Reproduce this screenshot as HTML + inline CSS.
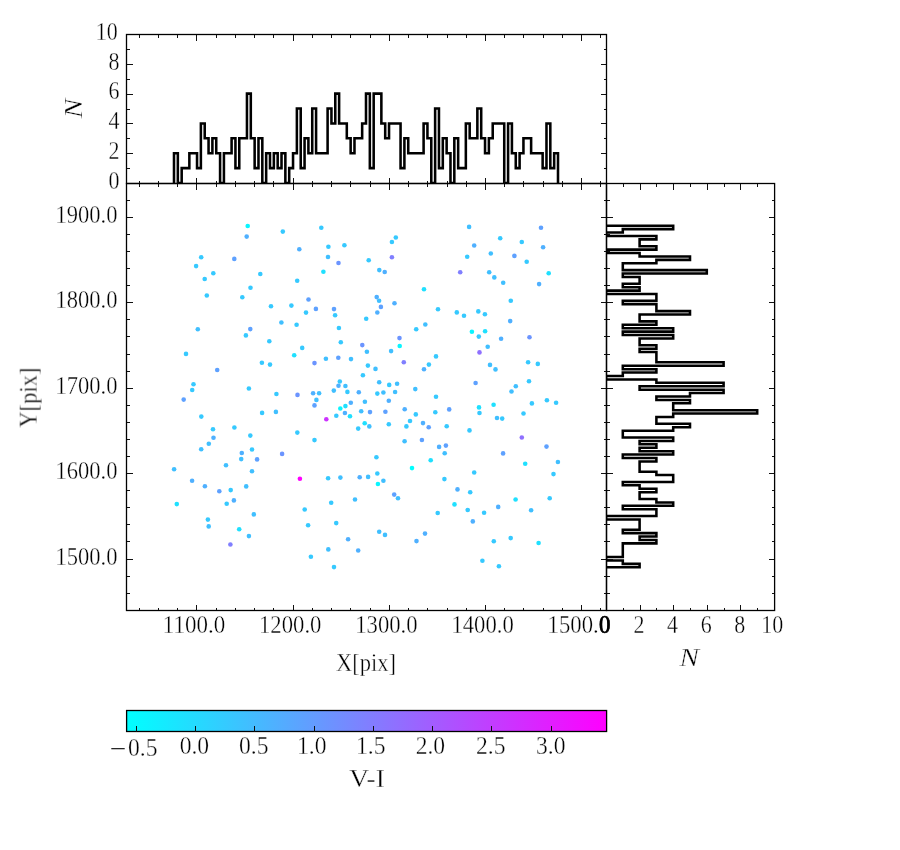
<!DOCTYPE html>
<html><head><meta charset="utf-8"><title>chart</title>
<style>html,body{margin:0;padding:0;background:#fff;}svg{display:block;}text{font-family:"Liberation Serif",serif;fill:#000;}</style></head><body>
<svg width="900" height="850" viewBox="0 0 900 850">
<rect x="0" y="0" width="900" height="850" fill="#ffffff"/>
<defs><linearGradient id="cool" x1="0" x2="1" y1="0" y2="0"><stop offset="0" stop-color="#00ffff"/><stop offset="1" stop-color="#ff00ff"/></linearGradient><clipPath id="cT"><rect x="126.0" y="34.0" width="480.0" height="149.0"/></clipPath><clipPath id="cR"><rect x="606.0" y="183.0" width="168.0" height="427.0"/></clipPath><clipPath id="cM"><rect x="126.0" y="183.0" width="480.0" height="427.0"/></clipPath></defs>
<g id="pts">
<circle cx="510.7" cy="538.1" r="2.3" fill="#36c9ff"/>
<circle cx="510.8" cy="300.7" r="2.3" fill="#36c9ff"/>
<circle cx="511.5" cy="391.5" r="2.3" fill="#40bfff"/>
<circle cx="412.0" cy="468.1" r="2.3" fill="#00ffff"/>
<circle cx="315.9" cy="308.9" r="2.3" fill="#5ea1ff"/>
<circle cx="314.5" cy="363.1" r="2.3" fill="#6b94ff"/>
<circle cx="314.5" cy="440.1" r="2.3" fill="#36c9ff"/>
<circle cx="217.2" cy="370.0" r="2.3" fill="#5ea1ff"/>
<circle cx="313.1" cy="393.3" r="2.3" fill="#4fb0ff"/>
<circle cx="319.1" cy="393.3" r="2.3" fill="#40bfff"/>
<circle cx="415.3" cy="389.1" r="2.3" fill="#40bfff"/>
<circle cx="515.8" cy="386.2" r="2.3" fill="#40bfff"/>
<circle cx="416.5" cy="541.1" r="2.3" fill="#4fb0ff"/>
<circle cx="503.2" cy="282.8" r="2.3" fill="#40bfff"/>
<circle cx="503.1" cy="453.4" r="2.3" fill="#5ea1ff"/>
<circle cx="310.9" cy="556.8" r="2.3" fill="#36c9ff"/>
<circle cx="226.0" cy="465.2" r="2.3" fill="#40bfff"/>
<circle cx="213.5" cy="437.8" r="2.3" fill="#4fb0ff"/>
<circle cx="213.3" cy="273.2" r="2.3" fill="#36c9ff"/>
<circle cx="323.4" cy="271.8" r="2.3" fill="#1fe0ff"/>
<circle cx="308.5" cy="299.5" r="2.3" fill="#5ea1ff"/>
<circle cx="308.1" cy="525.2" r="2.3" fill="#36c9ff"/>
<circle cx="404.6" cy="441.2" r="2.3" fill="#40bfff"/>
<circle cx="403.8" cy="362.2" r="2.3" fill="#807fff"/>
<circle cx="498.9" cy="566.2" r="2.3" fill="#36c9ff"/>
<circle cx="521.8" cy="437.5" r="2.3" fill="#8f70ff"/>
<circle cx="325.9" cy="358.8" r="2.3" fill="#40bfff"/>
<circle cx="421.9" cy="440.0" r="2.3" fill="#5ea1ff"/>
<circle cx="230.4" cy="544.5" r="2.3" fill="#807fff"/>
<circle cx="208.8" cy="443.8" r="2.3" fill="#40bfff"/>
<circle cx="208.7" cy="526.4" r="2.3" fill="#40bfff"/>
<circle cx="424.0" cy="289.2" r="2.3" fill="#1fe0ff"/>
<circle cx="424.0" cy="369.3" r="2.3" fill="#4fb0ff"/>
<circle cx="328.1" cy="478.2" r="2.3" fill="#36c9ff"/>
<circle cx="207.9" cy="519.6" r="2.3" fill="#36c9ff"/>
<circle cx="328.3" cy="549.4" r="2.3" fill="#40bfff"/>
<circle cx="399.7" cy="346.0" r="2.3" fill="#0af5ff"/>
<circle cx="495.5" cy="369.4" r="2.3" fill="#40bfff"/>
<circle cx="213.0" cy="429.3" r="2.3" fill="#36c9ff"/>
<circle cx="425.0" cy="533.6" r="2.3" fill="#4fb0ff"/>
<circle cx="525.2" cy="463.8" r="2.3" fill="#1fe0ff"/>
<circle cx="328.0" cy="257.0" r="2.3" fill="#40bfff"/>
<circle cx="206.8" cy="295.5" r="2.3" fill="#36c9ff"/>
<circle cx="494.3" cy="277.4" r="2.3" fill="#40bfff"/>
<circle cx="302.2" cy="347.9" r="2.3" fill="#36c9ff"/>
<circle cx="234.3" cy="258.9" r="2.3" fill="#5ea1ff"/>
<circle cx="514.4" cy="255.9" r="2.3" fill="#5ea1ff"/>
<circle cx="493.8" cy="541.2" r="2.3" fill="#36c9ff"/>
<circle cx="526.7" cy="261.7" r="2.3" fill="#36c9ff"/>
<circle cx="234.4" cy="427.5" r="2.3" fill="#36c9ff"/>
<circle cx="397.1" cy="383.8" r="2.3" fill="#40bfff"/>
<circle cx="204.7" cy="279.0" r="2.3" fill="#36c9ff"/>
<circle cx="406.4" cy="426.4" r="2.3" fill="#36c9ff"/>
<circle cx="528.1" cy="362.2" r="2.3" fill="#36c9ff"/>
<circle cx="299.9" cy="478.7" r="2.3" fill="#ff00ff"/>
<circle cx="428.7" cy="427.2" r="2.3" fill="#5ea1ff"/>
<circle cx="428.9" cy="364.6" r="2.3" fill="#36c9ff"/>
<circle cx="529.0" cy="381.2" r="2.3" fill="#36c9ff"/>
<circle cx="395.1" cy="392.0" r="2.3" fill="#40bfff"/>
<circle cx="490.8" cy="253.5" r="2.3" fill="#40bfff"/>
<circle cx="501.1" cy="338.8" r="2.3" fill="#4fb0ff"/>
<circle cx="394.5" cy="303.3" r="2.3" fill="#4fb0ff"/>
<circle cx="333.8" cy="390.6" r="2.3" fill="#40bfff"/>
<circle cx="334.0" cy="309.1" r="2.3" fill="#5ea1ff"/>
<circle cx="334.0" cy="567.1" r="2.3" fill="#36c9ff"/>
<circle cx="490.0" cy="364.9" r="2.3" fill="#40bfff"/>
<circle cx="399.5" cy="338.1" r="2.3" fill="#6b94ff"/>
<circle cx="297.5" cy="394.9" r="2.3" fill="#6b94ff"/>
<circle cx="430.7" cy="460.2" r="2.3" fill="#1fe0ff"/>
<circle cx="304.7" cy="509.5" r="2.3" fill="#36c9ff"/>
<circle cx="297.3" cy="432.6" r="2.3" fill="#36c9ff"/>
<circle cx="201.2" cy="257.2" r="2.3" fill="#36c9ff"/>
<circle cx="297.2" cy="280.8" r="2.3" fill="#36c9ff"/>
<circle cx="201.2" cy="449.2" r="2.3" fill="#40bfff"/>
<circle cx="489.2" cy="272.3" r="2.3" fill="#40bfff"/>
<circle cx="529.5" cy="337.3" r="2.3" fill="#6b94ff"/>
<circle cx="531.1" cy="510.2" r="2.3" fill="#40bfff"/>
<circle cx="423.0" cy="423.1" r="2.3" fill="#4fb0ff"/>
<circle cx="239.2" cy="529.2" r="2.3" fill="#1fe0ff"/>
<circle cx="336.2" cy="523.1" r="2.3" fill="#36c9ff"/>
<circle cx="391.9" cy="257.3" r="2.3" fill="#807fff"/>
<circle cx="487.7" cy="346.8" r="2.3" fill="#40bfff"/>
<circle cx="299.3" cy="249.2" r="2.3" fill="#4fb0ff"/>
<circle cx="391.1" cy="351.1" r="2.3" fill="#40bfff"/>
<circle cx="241.2" cy="459.1" r="2.3" fill="#40bfff"/>
<circle cx="410.0" cy="421.0" r="2.3" fill="#36c9ff"/>
<circle cx="498.2" cy="506.9" r="2.3" fill="#4fb0ff"/>
<circle cx="241.8" cy="453.0" r="2.3" fill="#4fb0ff"/>
<circle cx="294.2" cy="355.2" r="2.3" fill="#1fe0ff"/>
<circle cx="242.3" cy="297.2" r="2.3" fill="#36c9ff"/>
<circle cx="338.3" cy="357.8" r="2.3" fill="#5ea1ff"/>
<circle cx="338.5" cy="263.0" r="2.3" fill="#6b94ff"/>
<circle cx="338.5" cy="385.8" r="2.3" fill="#4fb0ff"/>
<circle cx="389.2" cy="384.9" r="2.3" fill="#36c9ff"/>
<circle cx="326.3" cy="419.3" r="2.3" fill="#cc33ff"/>
<circle cx="388.8" cy="424.3" r="2.3" fill="#36c9ff"/>
<circle cx="328.4" cy="246.8" r="2.3" fill="#36c9ff"/>
<circle cx="502.2" cy="418.6" r="2.3" fill="#36c9ff"/>
<circle cx="339.8" cy="381.5" r="2.3" fill="#36c9ff"/>
<circle cx="436.0" cy="356.4" r="2.3" fill="#36c9ff"/>
<circle cx="436.0" cy="396.8" r="2.3" fill="#36c9ff"/>
<circle cx="196.1" cy="266.1" r="2.3" fill="#36c9ff"/>
<circle cx="484.1" cy="512.8" r="2.3" fill="#36c9ff"/>
<circle cx="497.0" cy="418.0" r="2.3" fill="#40bfff"/>
<circle cx="340.4" cy="477.6" r="2.3" fill="#40bfff"/>
<circle cx="226.7" cy="503.8" r="2.3" fill="#36c9ff"/>
<circle cx="291.4" cy="305.6" r="2.3" fill="#36c9ff"/>
<circle cx="340.8" cy="342.3" r="2.3" fill="#36c9ff"/>
<circle cx="485.1" cy="331.3" r="2.3" fill="#1fe0ff"/>
<circle cx="331.2" cy="502.8" r="2.3" fill="#36c9ff"/>
<circle cx="201.3" cy="416.6" r="2.3" fill="#36c9ff"/>
<circle cx="437.7" cy="513.0" r="2.3" fill="#36c9ff"/>
<circle cx="537.8" cy="363.9" r="2.3" fill="#36c9ff"/>
<circle cx="482.4" cy="560.7" r="2.3" fill="#36c9ff"/>
<circle cx="245.9" cy="335.4" r="2.3" fill="#36c9ff"/>
<circle cx="438.0" cy="309.3" r="2.3" fill="#36c9ff"/>
<circle cx="336.3" cy="415.8" r="2.3" fill="#36c9ff"/>
<circle cx="538.6" cy="543.0" r="2.3" fill="#1fe0ff"/>
<circle cx="193.5" cy="384.2" r="2.3" fill="#36c9ff"/>
<circle cx="197.8" cy="329.3" r="2.3" fill="#40bfff"/>
<circle cx="416.2" cy="329.3" r="2.3" fill="#36c9ff"/>
<circle cx="439.1" cy="446.9" r="2.3" fill="#4fb0ff"/>
<circle cx="539.1" cy="284.1" r="2.3" fill="#4fb0ff"/>
<circle cx="385.0" cy="534.9" r="2.3" fill="#40bfff"/>
<circle cx="384.7" cy="272.0" r="2.3" fill="#4fb0ff"/>
<circle cx="415.8" cy="414.4" r="2.3" fill="#36c9ff"/>
<circle cx="233.9" cy="500.4" r="2.3" fill="#4fb0ff"/>
<circle cx="192.2" cy="390.0" r="2.3" fill="#36c9ff"/>
<circle cx="192.1" cy="480.8" r="2.3" fill="#4fb0ff"/>
<circle cx="521.8" cy="242.0" r="2.3" fill="#36c9ff"/>
<circle cx="391.9" cy="242.0" r="2.3" fill="#36c9ff"/>
<circle cx="338.9" cy="328.0" r="2.3" fill="#36c9ff"/>
<circle cx="344.4" cy="245.2" r="2.3" fill="#36c9ff"/>
<circle cx="479.5" cy="352.4" r="2.3" fill="#8f70ff"/>
<circle cx="383.4" cy="392.5" r="2.3" fill="#40bfff"/>
<circle cx="383.4" cy="480.8" r="2.3" fill="#40bfff"/>
<circle cx="523.5" cy="413.5" r="2.3" fill="#36c9ff"/>
<circle cx="515.6" cy="499.5" r="2.3" fill="#1fe0ff"/>
<circle cx="248.9" cy="388.5" r="2.3" fill="#36c9ff"/>
<circle cx="248.9" cy="536.1" r="2.3" fill="#40bfff"/>
<circle cx="479.5" cy="413.0" r="2.3" fill="#36c9ff"/>
<circle cx="344.9" cy="413.0" r="2.3" fill="#4fb0ff"/>
<circle cx="478.8" cy="336.6" r="2.3" fill="#36c9ff"/>
<circle cx="345.4" cy="386.0" r="2.3" fill="#40bfff"/>
<circle cx="478.3" cy="311.4" r="2.3" fill="#36c9ff"/>
<circle cx="398.0" cy="498.3" r="2.3" fill="#40bfff"/>
<circle cx="435.3" cy="412.2" r="2.3" fill="#36c9ff"/>
<circle cx="250.3" cy="329.1" r="2.3" fill="#5ea1ff"/>
<circle cx="250.3" cy="435.6" r="2.3" fill="#36c9ff"/>
<circle cx="250.5" cy="287.8" r="2.3" fill="#36c9ff"/>
<circle cx="385.4" cy="411.8" r="2.3" fill="#5ea1ff"/>
<circle cx="543.1" cy="247.2" r="2.3" fill="#4fb0ff"/>
<circle cx="380.9" cy="306.9" r="2.3" fill="#5ea1ff"/>
<circle cx="347.4" cy="391.9" r="2.3" fill="#36c9ff"/>
<circle cx="296.6" cy="324.8" r="2.3" fill="#36c9ff"/>
<circle cx="425.3" cy="324.5" r="2.3" fill="#40bfff"/>
<circle cx="252.0" cy="449.5" r="2.3" fill="#36c9ff"/>
<circle cx="252.0" cy="471.2" r="2.3" fill="#40bfff"/>
<circle cx="500.2" cy="238.2" r="2.3" fill="#36c9ff"/>
<circle cx="348.1" cy="539.3" r="2.3" fill="#4fb0ff"/>
<circle cx="444.4" cy="479.1" r="2.3" fill="#36c9ff"/>
<circle cx="475.6" cy="383.0" r="2.3" fill="#5ea1ff"/>
<circle cx="444.7" cy="453.3" r="2.3" fill="#40bfff"/>
<circle cx="395.8" cy="237.5" r="2.3" fill="#36c9ff"/>
<circle cx="379.3" cy="270.1" r="2.3" fill="#40bfff"/>
<circle cx="379.2" cy="382.2" r="2.3" fill="#40bfff"/>
<circle cx="379.2" cy="531.8" r="2.3" fill="#40bfff"/>
<circle cx="379.1" cy="300.8" r="2.3" fill="#40bfff"/>
<circle cx="404.7" cy="409.2" r="2.3" fill="#4fb0ff"/>
<circle cx="246.7" cy="236.6" r="2.3" fill="#4fb0ff"/>
<circle cx="394.2" cy="494.6" r="2.3" fill="#5ea1ff"/>
<circle cx="340.3" cy="408.5" r="2.3" fill="#0af5ff"/>
<circle cx="253.8" cy="514.4" r="2.3" fill="#40bfff"/>
<circle cx="445.9" cy="445.6" r="2.3" fill="#5ea1ff"/>
<circle cx="350.0" cy="416.3" r="2.3" fill="#1fe0ff"/>
<circle cx="474.2" cy="245.5" r="2.3" fill="#4fb0ff"/>
<circle cx="474.2" cy="472.5" r="2.3" fill="#36c9ff"/>
<circle cx="282.1" cy="453.9" r="2.3" fill="#6b94ff"/>
<circle cx="186.0" cy="353.9" r="2.3" fill="#36c9ff"/>
<circle cx="546.5" cy="446.6" r="2.3" fill="#5ea1ff"/>
<circle cx="446.7" cy="426.2" r="2.3" fill="#36c9ff"/>
<circle cx="281.4" cy="322.5" r="2.3" fill="#40bfff"/>
<circle cx="510.2" cy="321.1" r="2.3" fill="#4fb0ff"/>
<circle cx="479.0" cy="407.4" r="2.3" fill="#1fe0ff"/>
<circle cx="377.3" cy="393.6" r="2.3" fill="#36c9ff"/>
<circle cx="377.3" cy="473.5" r="2.3" fill="#36c9ff"/>
<circle cx="351.0" cy="359.1" r="2.3" fill="#40bfff"/>
<circle cx="472.8" cy="521.4" r="2.3" fill="#4fb0ff"/>
<circle cx="376.7" cy="297.1" r="2.3" fill="#4fb0ff"/>
<circle cx="376.4" cy="457.3" r="2.3" fill="#36c9ff"/>
<circle cx="345.4" cy="406.1" r="2.3" fill="#1fe0ff"/>
<circle cx="471.9" cy="331.7" r="2.3" fill="#0af5ff"/>
<circle cx="375.5" cy="368.9" r="2.3" fill="#40bfff"/>
<circle cx="548.7" cy="273.2" r="2.3" fill="#1fe0ff"/>
<circle cx="314.5" cy="405.4" r="2.3" fill="#5ea1ff"/>
<circle cx="219.3" cy="491.3" r="2.3" fill="#5ea1ff"/>
<circle cx="257.1" cy="459.4" r="2.3" fill="#5ea1ff"/>
<circle cx="449.2" cy="409.4" r="2.3" fill="#5ea1ff"/>
<circle cx="493.6" cy="404.7" r="2.3" fill="#1fe0ff"/>
<circle cx="549.7" cy="498.2" r="2.3" fill="#36c9ff"/>
<circle cx="470.2" cy="492.2" r="2.3" fill="#36c9ff"/>
<circle cx="230.7" cy="490.1" r="2.3" fill="#36c9ff"/>
<circle cx="282.8" cy="231.6" r="2.3" fill="#36c9ff"/>
<circle cx="469.5" cy="430.4" r="2.3" fill="#36c9ff"/>
<circle cx="531.9" cy="403.4" r="2.3" fill="#36c9ff"/>
<circle cx="355.0" cy="499.5" r="2.3" fill="#40bfff"/>
<circle cx="350.8" cy="402.8" r="2.3" fill="#4fb0ff"/>
<circle cx="276.4" cy="394.0" r="2.3" fill="#36c9ff"/>
<circle cx="260.3" cy="274.0" r="2.3" fill="#36c9ff"/>
<circle cx="275.9" cy="411.9" r="2.3" fill="#40bfff"/>
<circle cx="467.7" cy="510.0" r="2.3" fill="#36c9ff"/>
<circle cx="467.2" cy="256.7" r="2.3" fill="#36c9ff"/>
<circle cx="335.1" cy="315.3" r="2.3" fill="#36c9ff"/>
<circle cx="388.8" cy="400.8" r="2.3" fill="#4fb0ff"/>
<circle cx="553.5" cy="474.1" r="2.3" fill="#36c9ff"/>
<circle cx="261.9" cy="362.8" r="2.3" fill="#36c9ff"/>
<circle cx="246.2" cy="486.4" r="2.3" fill="#40bfff"/>
<circle cx="262.1" cy="412.9" r="2.3" fill="#36c9ff"/>
<circle cx="204.9" cy="486.2" r="2.3" fill="#4fb0ff"/>
<circle cx="484.9" cy="314.2" r="2.3" fill="#36c9ff"/>
<circle cx="546.9" cy="400.2" r="2.3" fill="#36c9ff"/>
<circle cx="358.2" cy="428.6" r="2.3" fill="#36c9ff"/>
<circle cx="370.0" cy="412.1" r="2.3" fill="#5ea1ff"/>
<circle cx="358.2" cy="550.5" r="2.3" fill="#4fb0ff"/>
<circle cx="316.4" cy="399.9" r="2.3" fill="#40bfff"/>
<circle cx="541.0" cy="227.8" r="2.3" fill="#5ea1ff"/>
<circle cx="321.3" cy="227.8" r="2.3" fill="#36c9ff"/>
<circle cx="454.5" cy="504.4" r="2.3" fill="#1fe0ff"/>
<circle cx="183.7" cy="399.6" r="2.3" fill="#5ea1ff"/>
<circle cx="358.8" cy="392.3" r="2.3" fill="#4fb0ff"/>
<circle cx="369.3" cy="426.4" r="2.3" fill="#40bfff"/>
<circle cx="469.1" cy="226.9" r="2.3" fill="#40bfff"/>
<circle cx="176.8" cy="504.1" r="2.3" fill="#1fe0ff"/>
<circle cx="368.7" cy="260.3" r="2.3" fill="#36c9ff"/>
<circle cx="306.0" cy="312.6" r="2.3" fill="#36c9ff"/>
<circle cx="359.7" cy="477.3" r="2.3" fill="#4fb0ff"/>
<circle cx="377.3" cy="312.5" r="2.3" fill="#4fb0ff"/>
<circle cx="556.1" cy="402.7" r="2.3" fill="#36c9ff"/>
<circle cx="368.1" cy="476.9" r="2.3" fill="#40bfff"/>
<circle cx="464.0" cy="315.7" r="2.3" fill="#36c9ff"/>
<circle cx="247.7" cy="226.0" r="2.3" fill="#0af5ff"/>
<circle cx="367.9" cy="365.6" r="2.3" fill="#36c9ff"/>
<circle cx="377.9" cy="484.0" r="2.3" fill="#0af5ff"/>
<circle cx="456.8" cy="312.4" r="2.3" fill="#36c9ff"/>
<circle cx="271.0" cy="306.3" r="2.3" fill="#36c9ff"/>
<circle cx="361.2" cy="411.3" r="2.3" fill="#40bfff"/>
<circle cx="366.9" cy="351.8" r="2.3" fill="#40bfff"/>
<circle cx="457.5" cy="489.4" r="2.3" fill="#4fb0ff"/>
<circle cx="557.9" cy="462.0" r="2.3" fill="#40bfff"/>
<circle cx="174.1" cy="469.3" r="2.3" fill="#40bfff"/>
<circle cx="270.0" cy="364.6" r="2.3" fill="#36c9ff"/>
<circle cx="362.3" cy="345.1" r="2.3" fill="#6b94ff"/>
<circle cx="269.3" cy="341.2" r="2.3" fill="#36c9ff"/>
<circle cx="362.9" cy="375.2" r="2.3" fill="#36c9ff"/>
<circle cx="460.2" cy="272.3" r="2.3" fill="#807fff"/>
<circle cx="364.7" cy="423.3" r="2.3" fill="#1fe0ff"/>
<circle cx="364.9" cy="401.8" r="2.3" fill="#40bfff"/>
<circle cx="366.2" cy="318.8" r="2.3" fill="#36c9ff"/>
</g>
<path d="M174.00,183.00L174.00,153.20L177.84,153.20L177.84,183.00L181.68,183.00L181.68,168.10L185.52,168.10L185.52,168.10L189.36,168.10L189.36,153.20L193.20,153.20L193.20,153.20L197.04,153.20L197.04,168.10L200.88,168.10L200.88,123.40L204.72,123.40L204.72,138.30L208.56,138.30L208.56,153.20L212.40,153.20L212.40,138.30L216.24,138.30L216.24,153.20L220.08,153.20L220.08,183.00L223.92,183.00L223.92,153.20L227.76,153.20L227.76,153.20L231.60,153.20L231.60,138.30L235.44,138.30L235.44,168.10L239.28,168.10L239.28,138.30L243.12,138.30L243.12,138.30L246.96,138.30L246.96,93.60L250.80,93.60L250.80,138.30L254.64,138.30L254.64,168.10L258.48,168.10L258.48,138.30L262.32,138.30L262.32,183.00L266.16,183.00L266.16,153.20L270.00,153.20L270.00,168.10L273.84,168.10L273.84,153.20L277.68,153.20L277.68,168.10L281.52,168.10L281.52,153.20L285.36,153.20L285.36,183.00L289.20,183.00L289.20,168.10L293.04,168.10L293.04,153.20L296.88,153.20L296.88,108.50L300.72,108.50L300.72,168.10L304.56,168.10L304.56,138.30L308.40,138.30L308.40,153.20L312.24,153.20L312.24,108.50L316.08,108.50L316.08,153.20L319.92,153.20L319.92,153.20L323.76,153.20L323.76,153.20L327.60,153.20L327.60,108.50L331.44,108.50L331.44,123.40L335.28,123.40L335.28,93.60L339.12,93.60L339.12,123.40L342.96,123.40L342.96,123.40L346.80,123.40L346.80,138.30L350.64,138.30L350.64,153.20L354.48,153.20L354.48,138.30L358.32,138.30L358.32,138.30L362.16,138.30L362.16,123.40L366.00,123.40L366.00,93.60L369.84,93.60L369.84,168.10L373.68,168.10L373.68,93.60L377.52,93.60L377.52,93.60L381.36,93.60L381.36,123.40L385.20,123.40L385.20,138.30L389.04,138.30L389.04,123.40L392.88,123.40L392.88,123.40L396.72,123.40L396.72,123.40L400.56,123.40L400.56,168.10L404.40,168.10L404.40,138.30L408.24,138.30L408.24,153.20L412.08,153.20L412.08,153.20L415.92,153.20L415.92,153.20L419.76,153.20L419.76,153.20L423.60,153.20L423.60,123.40L427.44,123.40L427.44,138.30L431.28,138.30L431.28,183.00L435.12,183.00L435.12,108.50L438.96,108.50L438.96,168.10L442.80,168.10L442.80,138.30L446.64,138.30L446.64,153.20L450.48,153.20L450.48,183.00L454.32,183.00L454.32,138.30L458.16,138.30L458.16,168.10L462.00,168.10L462.00,168.10L465.84,168.10L465.84,123.40L469.68,123.40L469.68,138.30L473.52,138.30L473.52,138.30L477.36,138.30L477.36,108.50L481.20,108.50L481.20,138.30L485.04,138.30L485.04,153.20L488.88,153.20L488.88,138.30L492.72,138.30L492.72,123.40L496.56,123.40L496.56,123.40L500.40,123.40L500.40,123.40L504.24,123.40L504.24,183.00L508.08,183.00L508.08,123.40L511.92,123.40L511.92,153.20L515.76,153.20L515.76,168.10L519.60,168.10L519.60,153.20L523.44,153.20L523.44,138.30L527.28,138.30L527.28,138.30L531.12,138.30L531.12,153.20L534.96,153.20L534.96,153.20L538.80,153.20L538.80,153.20L542.64,153.20L542.64,168.10L546.48,168.10L546.48,123.40L550.32,123.40L550.32,168.10L554.16,168.10L554.16,153.20L558.00,153.20L558.00,183.00" fill="none" stroke="#000" stroke-width="2.55" stroke-linejoin="miter" clip-path="url(#cT)"/>
<path d="M606.00,225.70L673.20,225.70L673.20,229.12L622.80,229.12L622.80,232.53L606.00,232.53L606.00,235.95L656.40,235.95L656.40,239.36L639.60,239.36L639.60,242.78L639.60,242.78L639.60,246.20L656.40,246.20L656.40,249.61L606.00,249.61L606.00,253.03L639.60,253.03L639.60,256.44L690.00,256.44L690.00,259.86L656.40,259.86L656.40,263.28L622.80,263.28L622.80,266.69L622.80,266.69L622.80,270.11L706.80,270.11L706.80,273.52L622.80,273.52L622.80,276.94L639.60,276.94L639.60,280.36L639.60,280.36L639.60,283.77L622.80,283.77L622.80,287.19L639.60,287.19L639.60,290.60L606.00,290.60L606.00,294.02L656.40,294.02L656.40,297.44L656.40,297.44L656.40,300.85L622.80,300.85L622.80,304.27L656.40,304.27L656.40,307.68L656.40,307.68L656.40,311.10L690.00,311.10L690.00,314.52L639.60,314.52L639.60,317.93L639.60,317.93L639.60,321.35L656.40,321.35L656.40,324.76L622.80,324.76L622.80,328.18L673.20,328.18L673.20,331.60L622.80,331.60L622.80,335.01L673.20,335.01L673.20,338.43L639.60,338.43L639.60,341.84L639.60,341.84L639.60,345.26L656.40,345.26L656.40,348.68L639.60,348.68L639.60,352.09L656.40,352.09L656.40,355.51L656.40,355.51L656.40,358.92L656.40,358.92L656.40,362.34L723.60,362.34L723.60,365.76L622.80,365.76L622.80,369.17L656.40,369.17L656.40,372.59L622.80,372.59L622.80,376.00L606.00,376.00L606.00,379.42L656.40,379.42L656.40,382.84L723.60,382.84L723.60,386.25L639.60,386.25L639.60,389.67L723.60,389.67L723.60,393.08L690.00,393.08L690.00,396.50L656.40,396.50L656.40,399.92L690.00,399.92L690.00,403.33L673.20,403.33L673.20,406.75L673.20,406.75L673.20,410.16L757.20,410.16L757.20,413.58L673.20,413.58L673.20,417.00L656.40,417.00L656.40,420.41L656.40,420.41L656.40,423.83L690.00,423.83L690.00,427.24L673.20,427.24L673.20,430.66L622.80,430.66L622.80,434.08L622.80,434.08L622.80,437.49L673.20,437.49L673.20,440.91L639.60,440.91L639.60,444.32L656.40,444.32L656.40,447.74L639.60,447.74L639.60,451.16L673.20,451.16L673.20,454.57L622.80,454.57L622.80,457.99L656.40,457.99L656.40,461.40L639.60,461.40L639.60,464.82L639.60,464.82L639.60,468.24L639.60,468.24L639.60,471.65L656.40,471.65L656.40,475.07L673.20,475.07L673.20,478.48L673.20,478.48L673.20,481.90L622.80,481.90L622.80,485.32L639.60,485.32L639.60,488.73L656.40,488.73L656.40,492.15L639.60,492.15L639.60,495.56L639.60,495.56L639.60,498.98L656.40,498.98L656.40,502.40L673.20,502.40L673.20,505.81L622.80,505.81L622.80,509.23L656.40,509.23L656.40,512.64L656.40,512.64L656.40,516.06L606.00,516.06L606.00,519.48L639.60,519.48L639.60,522.89L639.60,522.89L639.60,526.31L639.60,526.31L639.60,529.72L622.80,529.72L622.80,533.14L656.40,533.14L656.40,536.56L639.60,536.56L639.60,539.97L656.40,539.97L656.40,543.39L622.80,543.39L622.80,546.80L622.80,546.80L622.80,550.22L622.80,550.22L622.80,553.64L622.80,553.64L622.80,557.05L606.00,557.05L606.00,560.47L622.80,560.47L622.80,563.88L639.60,563.88L639.60,567.30L606.00,567.30" fill="none" stroke="#000" stroke-width="2.55" stroke-linejoin="miter" clip-path="url(#cR)"/>
<path d="M139.5,610.5L139.5,607.5M139.5,183.5L139.5,186.5M139.5,183.5L139.5,180.5M139.5,34.5L139.5,37.5M158.5,610.5L158.5,607.5M158.5,183.5L158.5,186.5M158.5,183.5L158.5,180.5M158.5,34.5L158.5,37.5M177.5,610.5L177.5,607.5M177.5,183.5L177.5,186.5M177.5,183.5L177.5,180.5M177.5,34.5L177.5,37.5M196.5,610.5L196.5,604.5M196.5,183.5L196.5,189.5M196.5,183.5L196.5,177.5M196.5,34.5L196.5,40.5M216.5,610.5L216.5,607.5M216.5,183.5L216.5,186.5M216.5,183.5L216.5,180.5M216.5,34.5L216.5,37.5M235.5,610.5L235.5,607.5M235.5,183.5L235.5,186.5M235.5,183.5L235.5,180.5M235.5,34.5L235.5,37.5M254.5,610.5L254.5,607.5M254.5,183.5L254.5,186.5M254.5,183.5L254.5,180.5M254.5,34.5L254.5,37.5M273.5,610.5L273.5,607.5M273.5,183.5L273.5,186.5M273.5,183.5L273.5,180.5M273.5,34.5L273.5,37.5M293.5,610.5L293.5,604.5M293.5,183.5L293.5,189.5M293.5,183.5L293.5,177.5M293.5,34.5L293.5,40.5M312.5,610.5L312.5,607.5M312.5,183.5L312.5,186.5M312.5,183.5L312.5,180.5M312.5,34.5L312.5,37.5M331.5,610.5L331.5,607.5M331.5,183.5L331.5,186.5M331.5,183.5L331.5,180.5M331.5,34.5L331.5,37.5M350.5,610.5L350.5,607.5M350.5,183.5L350.5,186.5M350.5,183.5L350.5,180.5M350.5,34.5L350.5,37.5M370.5,610.5L370.5,607.5M370.5,183.5L370.5,186.5M370.5,183.5L370.5,180.5M370.5,34.5L370.5,37.5M389.5,610.5L389.5,604.5M389.5,183.5L389.5,189.5M389.5,183.5L389.5,177.5M389.5,34.5L389.5,40.5M408.5,610.5L408.5,607.5M408.5,183.5L408.5,186.5M408.5,183.5L408.5,180.5M408.5,34.5L408.5,37.5M427.5,610.5L427.5,607.5M427.5,183.5L427.5,186.5M427.5,183.5L427.5,180.5M427.5,34.5L427.5,37.5M447.5,610.5L447.5,607.5M447.5,183.5L447.5,186.5M447.5,183.5L447.5,180.5M447.5,34.5L447.5,37.5M466.5,610.5L466.5,607.5M466.5,183.5L466.5,186.5M466.5,183.5L466.5,180.5M466.5,34.5L466.5,37.5M485.5,610.5L485.5,604.5M485.5,183.5L485.5,189.5M485.5,183.5L485.5,177.5M485.5,34.5L485.5,40.5M504.5,610.5L504.5,607.5M504.5,183.5L504.5,186.5M504.5,183.5L504.5,180.5M504.5,34.5L504.5,37.5M523.5,610.5L523.5,607.5M523.5,183.5L523.5,186.5M523.5,183.5L523.5,180.5M523.5,34.5L523.5,37.5M543.5,610.5L543.5,607.5M543.5,183.5L543.5,186.5M543.5,183.5L543.5,180.5M543.5,34.5L543.5,37.5M562.5,610.5L562.5,607.5M562.5,183.5L562.5,186.5M562.5,183.5L562.5,180.5M562.5,34.5L562.5,37.5M581.5,610.5L581.5,604.5M581.5,183.5L581.5,189.5M581.5,183.5L581.5,177.5M581.5,34.5L581.5,40.5M600.5,610.5L600.5,607.5M600.5,183.5L600.5,186.5M600.5,183.5L600.5,180.5M600.5,34.5L600.5,37.5M126.5,593.5L129.5,593.5M606.5,593.5L603.5,593.5M606.5,593.5L609.5,593.5M774.5,593.5L771.5,593.5M126.5,576.5L129.5,576.5M606.5,576.5L603.5,576.5M606.5,576.5L609.5,576.5M774.5,576.5L771.5,576.5M126.5,559.5L132.5,559.5M606.5,559.5L600.5,559.5M606.5,559.5L612.5,559.5M774.5,559.5L768.5,559.5M126.5,541.5L129.5,541.5M606.5,541.5L603.5,541.5M606.5,541.5L609.5,541.5M774.5,541.5L771.5,541.5M126.5,524.5L129.5,524.5M606.5,524.5L603.5,524.5M606.5,524.5L609.5,524.5M774.5,524.5L771.5,524.5M126.5,507.5L129.5,507.5M606.5,507.5L603.5,507.5M606.5,507.5L609.5,507.5M774.5,507.5L771.5,507.5M126.5,490.5L129.5,490.5M606.5,490.5L603.5,490.5M606.5,490.5L609.5,490.5M774.5,490.5L771.5,490.5M126.5,473.5L132.5,473.5M606.5,473.5L600.5,473.5M606.5,473.5L612.5,473.5M774.5,473.5L768.5,473.5M126.5,456.5L129.5,456.5M606.5,456.5L603.5,456.5M606.5,456.5L609.5,456.5M774.5,456.5L771.5,456.5M126.5,439.5L129.5,439.5M606.5,439.5L603.5,439.5M606.5,439.5L609.5,439.5M774.5,439.5L771.5,439.5M126.5,422.5L129.5,422.5M606.5,422.5L603.5,422.5M606.5,422.5L609.5,422.5M774.5,422.5L771.5,422.5M126.5,405.5L129.5,405.5M606.5,405.5L603.5,405.5M606.5,405.5L609.5,405.5M774.5,405.5L771.5,405.5M126.5,388.5L132.5,388.5M606.5,388.5L600.5,388.5M606.5,388.5L612.5,388.5M774.5,388.5L768.5,388.5M126.5,371.5L129.5,371.5M606.5,371.5L603.5,371.5M606.5,371.5L609.5,371.5M774.5,371.5L771.5,371.5M126.5,354.5L129.5,354.5M606.5,354.5L603.5,354.5M606.5,354.5L609.5,354.5M774.5,354.5L771.5,354.5M126.5,336.5L129.5,336.5M606.5,336.5L603.5,336.5M606.5,336.5L609.5,336.5M774.5,336.5L771.5,336.5M126.5,319.5L129.5,319.5M606.5,319.5L603.5,319.5M606.5,319.5L609.5,319.5M774.5,319.5L771.5,319.5M126.5,302.5L132.5,302.5M606.5,302.5L600.5,302.5M606.5,302.5L612.5,302.5M774.5,302.5L768.5,302.5M126.5,285.5L129.5,285.5M606.5,285.5L603.5,285.5M606.5,285.5L609.5,285.5M774.5,285.5L771.5,285.5M126.5,268.5L129.5,268.5M606.5,268.5L603.5,268.5M606.5,268.5L609.5,268.5M774.5,268.5L771.5,268.5M126.5,251.5L129.5,251.5M606.5,251.5L603.5,251.5M606.5,251.5L609.5,251.5M774.5,251.5L771.5,251.5M126.5,234.5L129.5,234.5M606.5,234.5L603.5,234.5M606.5,234.5L609.5,234.5M774.5,234.5L771.5,234.5M126.5,217.5L132.5,217.5M606.5,217.5L600.5,217.5M606.5,217.5L612.5,217.5M774.5,217.5L768.5,217.5M126.5,200.5L129.5,200.5M606.5,200.5L603.5,200.5M606.5,200.5L609.5,200.5M774.5,200.5L771.5,200.5M126.5,183.5L132.5,183.5M606.5,183.5L600.5,183.5M126.5,168.5L129.5,168.5M606.5,168.5L603.5,168.5M126.5,153.5L132.5,153.5M606.5,153.5L600.5,153.5M126.5,138.5L129.5,138.5M606.5,138.5L603.5,138.5M126.5,123.5L132.5,123.5M606.5,123.5L600.5,123.5M126.5,109.5L129.5,109.5M606.5,109.5L603.5,109.5M126.5,94.5L132.5,94.5M606.5,94.5L600.5,94.5M126.5,79.5L129.5,79.5M606.5,79.5L603.5,79.5M126.5,64.5L132.5,64.5M606.5,64.5L600.5,64.5M126.5,49.5L129.5,49.5M606.5,49.5L603.5,49.5M126.5,34.5L132.5,34.5M606.5,34.5L600.5,34.5M606.5,610.5L606.5,604.5M606.5,183.5L606.5,189.5M623.5,610.5L623.5,607.5M623.5,183.5L623.5,186.5M640.5,610.5L640.5,604.5M640.5,183.5L640.5,189.5M656.5,610.5L656.5,607.5M656.5,183.5L656.5,186.5M673.5,610.5L673.5,604.5M673.5,183.5L673.5,189.5M690.5,610.5L690.5,607.5M690.5,183.5L690.5,186.5M707.5,610.5L707.5,604.5M707.5,183.5L707.5,189.5M724.5,610.5L724.5,607.5M724.5,183.5L724.5,186.5M740.5,610.5L740.5,604.5M740.5,183.5L740.5,189.5M757.5,610.5L757.5,607.5M757.5,183.5L757.5,186.5M774.5,610.5L774.5,604.5M774.5,183.5L774.5,189.5" stroke="#111" stroke-width="1.0" fill="none" shape-rendering="crispEdges"/>
<rect x="126.50" y="34.50" width="480.00" height="149.00" fill="none" stroke="#000" stroke-width="1.3"/>
<rect x="126.50" y="183.50" width="480.00" height="427.00" fill="none" stroke="#000" stroke-width="1.3"/>
<rect x="606.50" y="183.50" width="168.10" height="427.00" fill="none" stroke="#000" stroke-width="1.3"/>
<rect x="126.60" y="710.50" width="480.00" height="21.00" fill="url(#cool)" stroke="#000" stroke-width="1.3"/>
<path d="M136.5,731.50L136.5,725.50M195.5,731.50L195.5,725.50M254.5,731.50L254.5,725.50M314.5,731.50L314.5,725.50M373.5,731.50L373.5,725.50M432.5,731.50L432.5,725.50M491.5,731.50L491.5,725.50M551.5,731.50L551.5,725.50" stroke="#111" stroke-width="1.0" fill="none" shape-rendering="crispEdges"/>
<g style="filter:grayscale(1)" stroke="#fff" stroke-width="0.35">
<text x="117.5" y="565.2" font-size="25" text-anchor="end" textLength="62" lengthAdjust="spacingAndGlyphs" >1500.0</text>
<text x="117.5" y="478.9" font-size="25" text-anchor="end" textLength="62" lengthAdjust="spacingAndGlyphs" >1600.0</text>
<text x="117.5" y="393.5" font-size="25" text-anchor="end" textLength="62" lengthAdjust="spacingAndGlyphs" >1700.0</text>
<text x="117.5" y="308.1" font-size="25" text-anchor="end" textLength="62" lengthAdjust="spacingAndGlyphs" >1800.0</text>
<text x="117.5" y="222.7" font-size="25" text-anchor="end" textLength="62" lengthAdjust="spacingAndGlyphs" >1900.0</text>
<text x="194.0" y="633.4" font-size="25" text-anchor="middle" textLength="62.4" lengthAdjust="spacingAndGlyphs" >1100.0</text>
<text x="290.2" y="633.4" font-size="25" text-anchor="middle" textLength="62.4" lengthAdjust="spacingAndGlyphs" >1200.0</text>
<text x="386.4" y="633.4" font-size="25" text-anchor="middle" textLength="62.4" lengthAdjust="spacingAndGlyphs" >1300.0</text>
<text x="482.6" y="633.4" font-size="25" text-anchor="middle" textLength="62.4" lengthAdjust="spacingAndGlyphs" >1400.0</text>
<text x="578.8" y="633.4" font-size="25" text-anchor="middle" textLength="62.4" lengthAdjust="spacingAndGlyphs" >1500.0</text>
<text x="119.6" y="188.8" font-size="25" text-anchor="end" textLength="11" lengthAdjust="spacingAndGlyphs" >0</text>
<text x="119.6" y="159.0" font-size="25" text-anchor="end" textLength="11" lengthAdjust="spacingAndGlyphs" >2</text>
<text x="119.6" y="129.2" font-size="25" text-anchor="end" textLength="11" lengthAdjust="spacingAndGlyphs" >4</text>
<text x="119.6" y="99.4" font-size="25" text-anchor="end" textLength="11" lengthAdjust="spacingAndGlyphs" >6</text>
<text x="119.6" y="69.6" font-size="25" text-anchor="end" textLength="11" lengthAdjust="spacingAndGlyphs" >8</text>
<text x="117.8" y="39.8" font-size="25" text-anchor="end" textLength="22" lengthAdjust="spacingAndGlyphs" >10</text>
<text x="604.9" y="633.4" font-size="25" text-anchor="middle" textLength="11.6" lengthAdjust="spacingAndGlyphs" stroke="#000" stroke-width="0.7">0</text>
<text x="639.0" y="633.4" font-size="25" text-anchor="middle" textLength="11" lengthAdjust="spacingAndGlyphs" >2</text>
<text x="672.6" y="633.4" font-size="25" text-anchor="middle" textLength="11" lengthAdjust="spacingAndGlyphs" >4</text>
<text x="706.2" y="633.4" font-size="25" text-anchor="middle" textLength="11" lengthAdjust="spacingAndGlyphs" >6</text>
<text x="739.8" y="633.4" font-size="25" text-anchor="middle" textLength="11" lengthAdjust="spacingAndGlyphs" >8</text>
<text x="772.2" y="633.4" font-size="25" text-anchor="middle" textLength="22" lengthAdjust="spacingAndGlyphs" >10</text>
<text x="142.7" y="755.8" font-size="25" text-anchor="middle" textLength="29.5" lengthAdjust="spacingAndGlyphs" >0.5</text>
<path d="M111.3,748.7L124.7,748.7" stroke="#000" stroke-width="1.1" fill="none"/>
<text x="194.4" y="754.0" font-size="25" text-anchor="middle" textLength="29.5" lengthAdjust="spacingAndGlyphs" >0.0</text>
<text x="253.8" y="754.0" font-size="25" text-anchor="middle" textLength="29.5" lengthAdjust="spacingAndGlyphs" >0.5</text>
<text x="311.8" y="754.0" font-size="25" text-anchor="middle" textLength="29.5" lengthAdjust="spacingAndGlyphs" >1.0</text>
<text x="370.8" y="754.0" font-size="25" text-anchor="middle" textLength="29.5" lengthAdjust="spacingAndGlyphs" >1.5</text>
<text x="430.4" y="754.0" font-size="25" text-anchor="middle" textLength="29.5" lengthAdjust="spacingAndGlyphs" >2.0</text>
<text x="490.7" y="754.0" font-size="25" text-anchor="middle" textLength="29.5" lengthAdjust="spacingAndGlyphs" >2.5</text>
<text x="550.7" y="754.0" font-size="25" text-anchor="middle" textLength="29.5" lengthAdjust="spacingAndGlyphs" >3.0</text>
<text x="366.0" y="671.0" font-size="25" text-anchor="middle" textLength="60" lengthAdjust="spacingAndGlyphs" >X[pix]</text>
<text x="367.1" y="786.5" font-size="25" text-anchor="middle" textLength="35.5" lengthAdjust="spacingAndGlyphs" >V-I</text>
<text x="0" y="0" font-size="25" text-anchor="middle" textLength="60" lengthAdjust="spacingAndGlyphs" transform="translate(36.7,397.6) rotate(-90)">Y[pix]</text>
<text x="0" y="0" font-size="25" font-style="italic" text-anchor="middle" textLength="19.5" lengthAdjust="spacingAndGlyphs" transform="translate(82,108.5) rotate(-90)">N</text>
<text x="689.3" y="666" font-size="25" font-style="italic" text-anchor="middle" textLength="19.5" lengthAdjust="spacingAndGlyphs">N</text>
</g>
</svg></body></html>
